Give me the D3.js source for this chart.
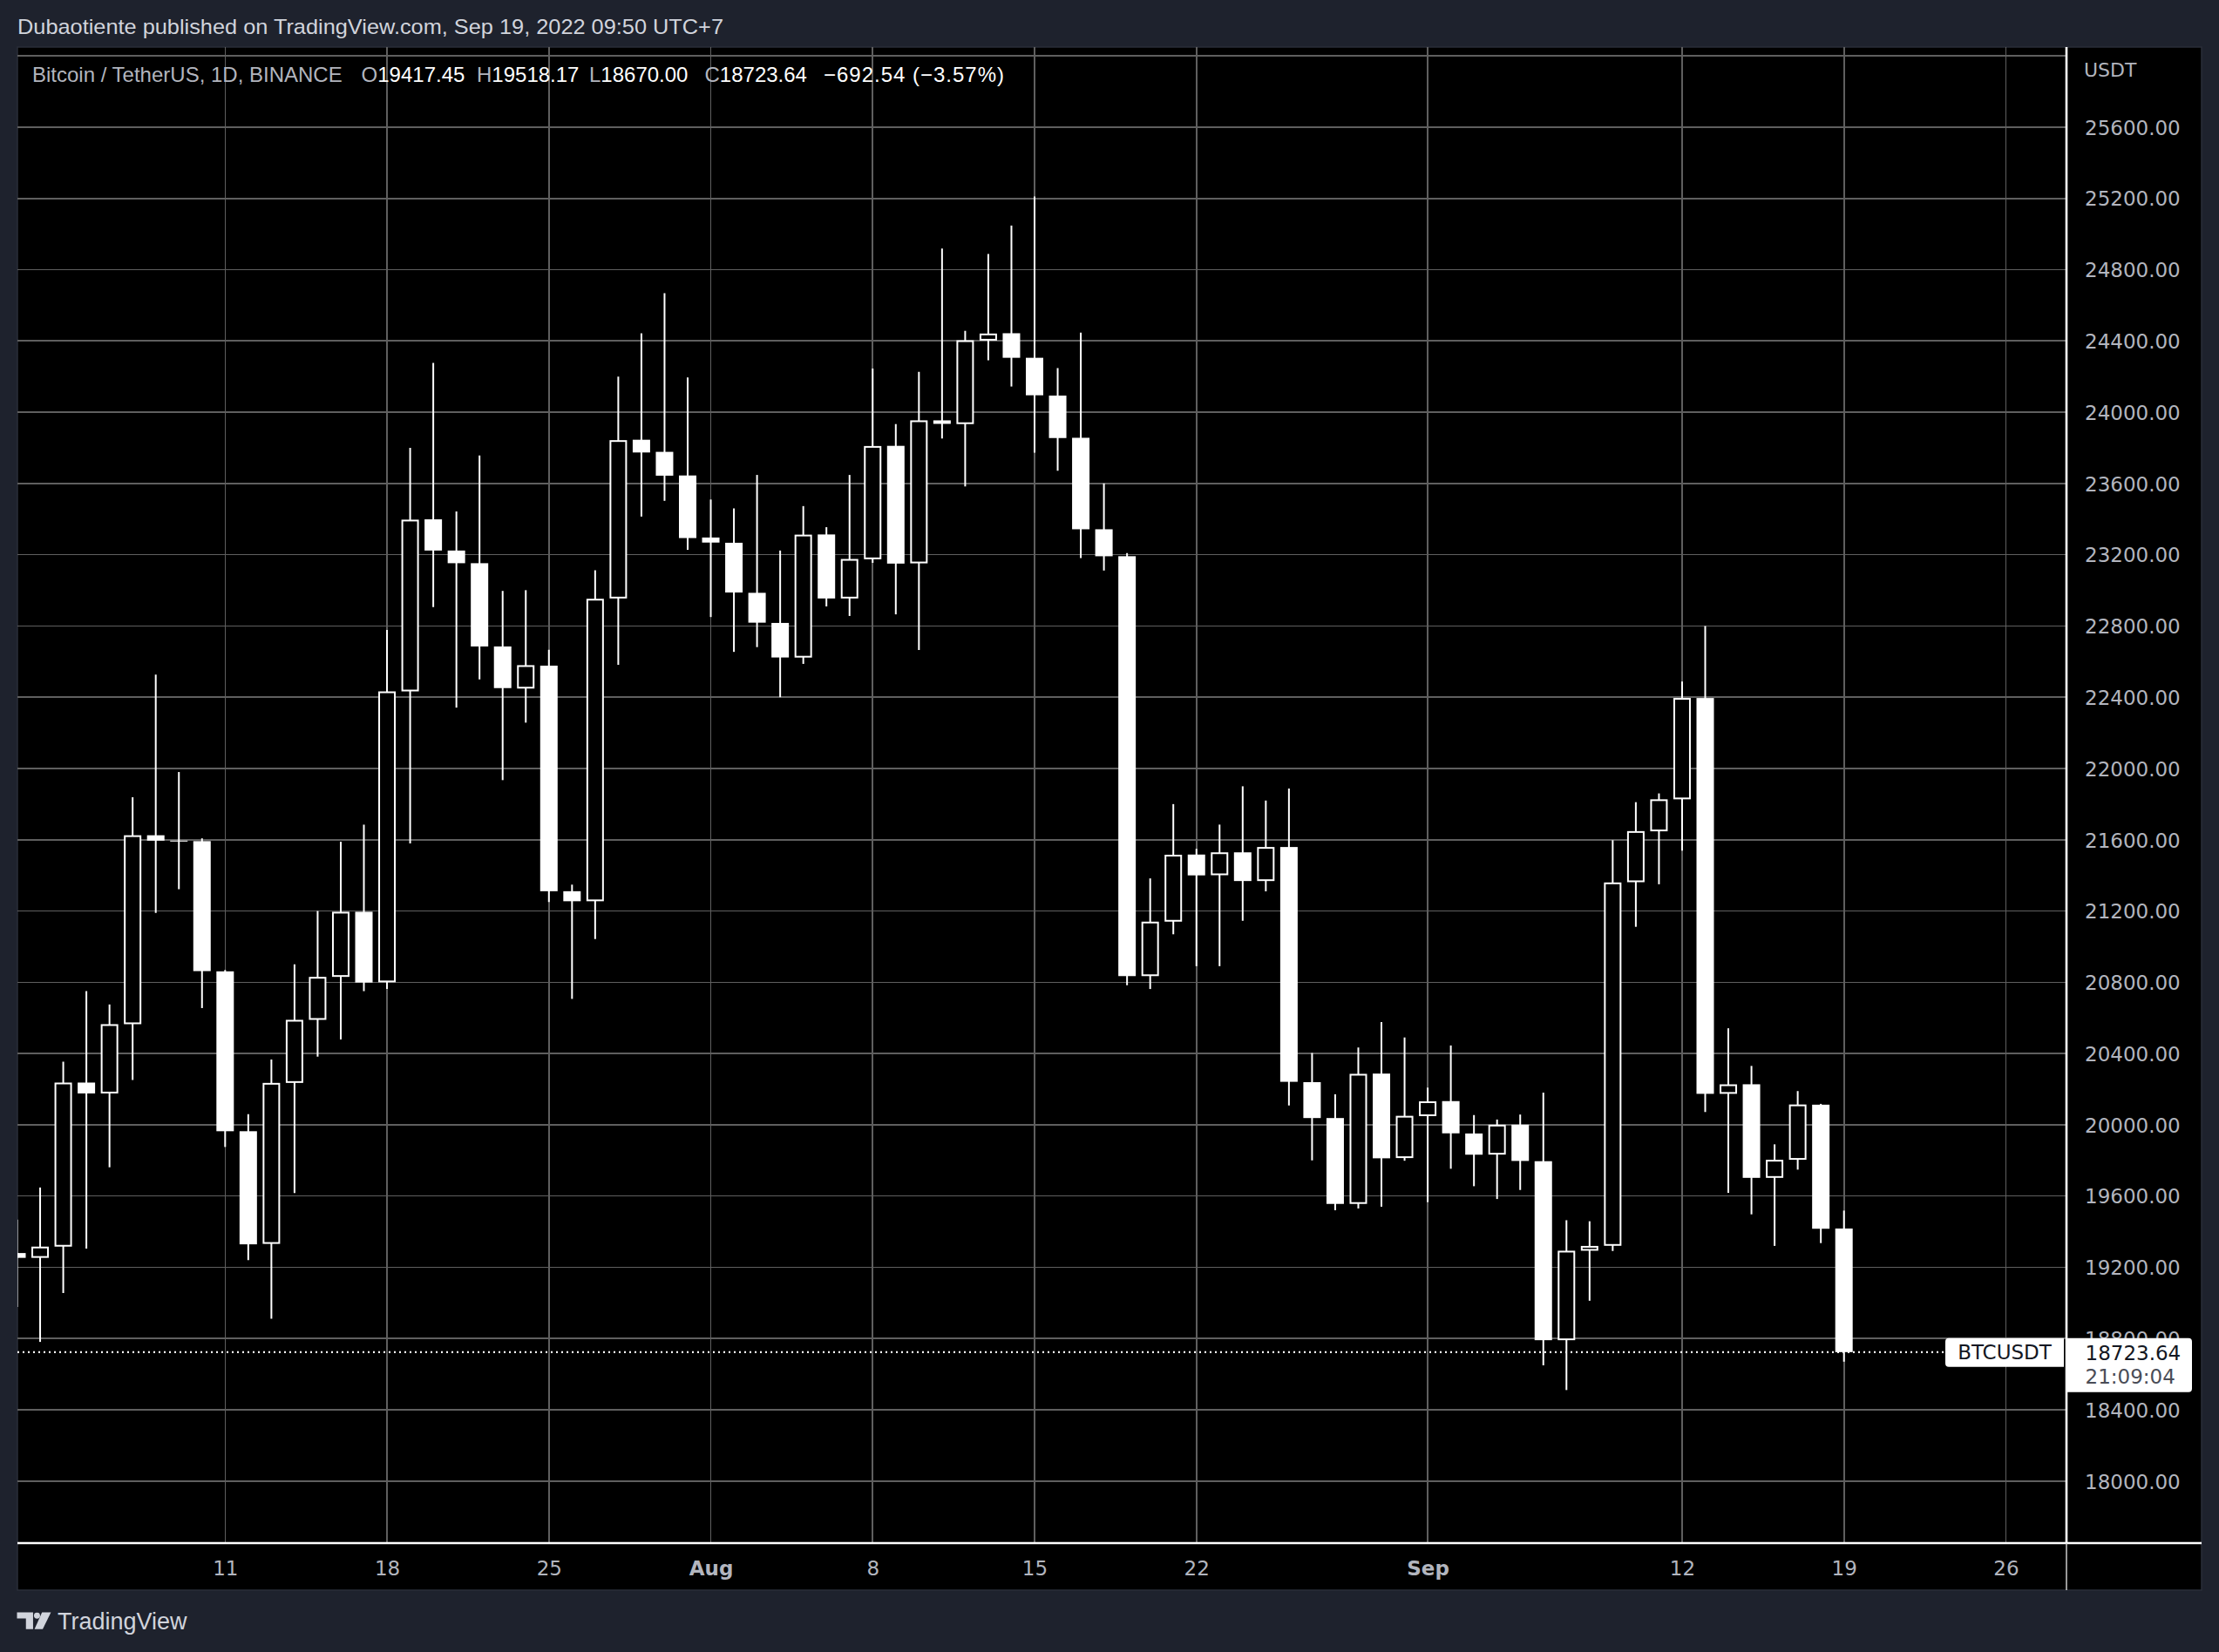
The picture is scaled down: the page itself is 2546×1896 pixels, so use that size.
<!DOCTYPE html>
<html><head><meta charset="utf-8">
<script src="https://cdn.jsdelivr.net/npm/d3@7"></script>
<style>
html,body{margin:0;padding:0;background:#1e222d;}
svg{display:block;}
</style></head><body>
<svg id="c" width="2546" height="1896"></svg>
<script>
// ---------- DATA (BTCUSDT daily, Binance) ----------
const dates = ["2022-07-02","2022-07-03","2022-07-04","2022-07-05","2022-07-06","2022-07-07","2022-07-08","2022-07-09","2022-07-10","2022-07-11",
"2022-07-12","2022-07-13","2022-07-14","2022-07-15","2022-07-16","2022-07-17","2022-07-18","2022-07-19","2022-07-20","2022-07-21",
"2022-07-22","2022-07-23","2022-07-24","2022-07-25","2022-07-26","2022-07-27","2022-07-28","2022-07-29","2022-07-30","2022-07-31",
"2022-08-01","2022-08-02","2022-08-03","2022-08-04","2022-08-05","2022-08-06","2022-08-07","2022-08-08","2022-08-09","2022-08-10",
"2022-08-11","2022-08-12","2022-08-13","2022-08-14","2022-08-15","2022-08-16","2022-08-17","2022-08-18","2022-08-19","2022-08-20",
"2022-08-21","2022-08-22","2022-08-23","2022-08-24","2022-08-25","2022-08-26","2022-08-27","2022-08-28","2022-08-29","2022-08-30",
"2022-08-31","2022-09-01","2022-09-02","2022-09-03","2022-09-04","2022-09-05","2022-09-06","2022-09-07","2022-09-08","2022-09-09",
"2022-09-10","2022-09-11","2022-09-12","2022-09-13","2022-09-14","2022-09-15","2022-09-16","2022-09-17","2022-09-18","2022-09-19"];
const openP = [19279.80,19252.82,19315.83,20236.71,20175.84,20564.51,21624.99,21594.75,21592.15,20861.11,
19963.61,19331.28,20234.87,20588.84,20830.04,21195.60,20799.58,22432.58,23398.48,23223.30,
23152.19,22684.83,22448.58,22577.13,21310.90,21254.67,22954.31,23845.25,23777.28,23644.64,
23296.36,23266.90,22985.93,22816.91,22622.41,23313.56,22954.21,23174.39,23810.98,23151.32,
23954.05,23933.09,24401.70,24443.06,24305.25,24093.04,23856.15,23342.66,23191.45,20834.39,
21140.07,21516.70,21400.75,21529.11,21368.05,21559.04,20239.14,20037.60,19555.61,20287.20,
19813.03,20048.44,20132.64,19950.98,19832.45,20000.30,19795.34,18790.61,19292.85,19320.54,
21361.62,21647.21,21826.87,22395.44,20173.62,20227.17,19701.88,19803.30,20112.60,19417.45];
const highP = [19467.39,19647.63,20354.01,20750.00,20675.22,21838.10,22527.37,21980.00,21607.65,20868.48,
20059.42,20366.61,20900.00,21200.00,21588.94,21684.54,22777.63,23800.00,24276.74,23442.77,
23756.49,22996.59,23000.77,22666.00,21347.82,23112.63,24199.72,24442.66,24668.00,24194.82,
23509.68,23459.89,23647.68,23223.32,23472.86,23354.36,23647.71,24245.00,23933.25,24226.00,
24918.54,24456.50,24888.00,25047.56,25211.32,24247.49,24446.71,23600.00,23208.67,21382.85,
21800.00,21548.71,21684.87,21900.00,21819.88,21886.77,20402.93,20171.18,20433.62,20576.25,
20490.00,20208.37,20445.06,20054.40,20029.23,20057.27,20180.00,19464.06,19458.25,21597.22,
21810.80,21860.00,22488.00,22799.00,20541.48,20330.24,19890.00,20189.00,20117.23,19518.17];
const lowP = [18977.01,18781.00,19055.31,19304.40,19761.25,20251.68,21189.26,21322.12,20655.00,19875.23,
19240.00,18910.94,19616.07,20382.29,20478.61,20750.01,20762.45,21579.54,22906.19,22341.46,
22500.00,21934.57,22257.15,21250.00,20706.50,21042.53,22582.13,23414.03,23502.25,23227.31,
22850.00,22654.37,22681.22,22400.00,22586.95,22909.52,22855.95,23154.25,22865.00,22664.69,
23852.13,23583.00,24291.22,24144.00,23773.22,23671.22,23180.40,23111.04,20783.57,20761.90,
21069.11,20890.18,20890.14,21145.00,21310.15,20107.90,19800.00,19520.00,19530.00,19540.00,
19797.94,19565.66,19753.03,19655.00,19583.10,19633.83,18649.51,18510.77,19012.00,19291.75,
21111.13,21350.00,21538.51,20071.46,19617.62,19497.00,19320.01,19748.08,19335.62,18670.00];
const closeP = [19252.81,19315.83,20236.71,20175.83,20564.51,21624.98,21594.75,21591.83,20862.47,19963.61,
19328.75,20234.87,20588.84,20830.04,21195.60,20798.16,22432.58,23396.62,23223.30,23152.19,
22684.83,22451.07,22579.68,21310.90,21254.67,22952.45,23842.93,23773.75,23643.51,23293.32,
23268.01,22987.79,22818.37,22622.98,23312.42,22954.21,23175.89,23810.00,23149.95,23954.05,
23934.39,24403.68,24441.38,24305.24,24094.82,23854.74,23342.66,23191.20,20834.39,21140.07,
21515.61,21399.83,21529.12,21368.08,21559.04,20241.05,20037.60,19555.61,20285.73,19811.66,
20050.02,20131.46,19951.86,19831.90,20000.30,19796.84,18790.61,19292.84,19319.77,21360.11,
21648.34,21826.87,22395.74,20173.57,20226.71,19701.88,19803.30,20113.62,19416.18,18723.64];

const priceTicks = [18000,18400,18800,19200,19600,20000,20400,20800,21200,21600,22000,22400,22800,23200,23600,24000,24400,24800,25200,25600,26000];
const priceLabelTicks = [18000,18400,18800,19200,19600,20000,20400,20800,21200,21600,22000,22400,22800,23200,23600,24000,24400,24800,25200,25600];
const timeTickDates = ["2022-07-11","2022-07-18","2022-07-25","2022-08-01","2022-08-08","2022-08-15","2022-08-22","2022-09-01","2022-09-12","2022-09-19","2022-09-26"];
const timeTickLabels = ["11","18","25","Aug","8","15","22","Sep","12","19","26"];
const boldTickLabels = ["Aug","Sep"];

const titleText = "Dubaotiente published on TradingView.com, Sep 19, 2022 09:50 UTC+7";
const symbolText = "Bitcoin / TetherUS, 1D, BINANCE";
const lastChange = "\u2212692.54 (\u22123.57%)";
const lastSymbol = "BTCUSDT";
const countdown = "21:09:04";

// ---------- LAYOUT ----------
const P = {left:20, top:54, right:2526, bottom:1825, axisX:2371, timeY:1771};
const svg = d3.select("#c");
const parse = d3.utcParse("%Y-%m-%d");
const candles = dates.map((d,i)=>({date:parse(d), o:openP[i], h:highP[i], l:lowP[i], c:closeP[i]}));

const x = d3.scaleUtc().domain([parse("2022-07-02"), parse("2022-09-19")]).range([19.5, 2115.7]);
const y = d3.scaleLinear().domain([18400, 25200]).range([1618, 227.7]);

// background
svg.append("rect").attr("width",2546).attr("height",1896).attr("fill","#1e222d");
svg.append("rect").attr("x",P.left).attr("y",P.top).attr("width",P.right-P.left).attr("height",P.bottom-P.top)
  .attr("fill","#000").attr("stroke","#2a2e39").attr("stroke-width",1.5);

// clip
svg.append("clipPath").attr("id","plot").append("rect")
  .attr("x",P.left).attr("y",P.top).attr("width",P.axisX-P.left).attr("height",P.timeY-P.top);

const grid = svg.append("g").attr("clip-path","url(#plot)").attr("shape-rendering","crispEdges");
grid.selectAll(".hg").data(priceTicks).join("line")
  .attr("x1",P.left).attr("x2",P.axisX).attr("y1",d=>y(d)).attr("y2",d=>y(d))
  .attr("stroke","#5f5f5f").attr("stroke-width",1.6);
grid.selectAll(".vg").data(timeTickDates).join("line")
  .attr("x1",d=>x(parse(d))).attr("x2",d=>x(parse(d))).attr("y1",P.top).attr("y2",P.timeY)
  .attr("stroke","#5f5f5f").attr("stroke-width",1.6);

// last price dotted line
const lastClose = closeP[closeP.length-1];
const ly = y(lastClose);
svg.append("line").attr("x1",P.left).attr("x2",2232).attr("y1",ly).attr("y2",ly)
  .attr("stroke","#fff").attr("stroke-width",2.2).attr("stroke-dasharray","2,4");

// candles
const cg = svg.append("g").attr("clip-path","url(#plot)");
const bw = 20;
cg.selectAll(".wick").data(candles).join("line")
  .attr("x1",d=>x(d.date)).attr("x2",d=>x(d.date))
  .attr("y1",d=>y(d.h)).attr("y2",d=>y(d.l))
  .attr("stroke","#fff").attr("stroke-width",2);
cg.selectAll(".body").data(candles).join("rect")
  .attr("x",d=> d.c>=d.o ? x(d.date)-bw/2+1 : x(d.date)-bw/2)
  .attr("width",d=> d.c>=d.o ? bw-2 : bw)
  .attr("y",d=> d.c>=d.o ? y(d.c)+1 : y(d.o))
  .attr("height",d=> d.c>=d.o ? Math.max(0.5, y(d.o)-y(d.c)-2) : Math.max(1, y(d.c)-y(d.o)))
  .attr("fill",d=> d.c>=d.o ? "#000" : "#fff")
  .attr("stroke",d=> d.c>=d.o ? "#fff" : "none")
  .attr("stroke-width",2);

// price axis
const yAxis = d3.axisRight(y).tickValues(priceLabelTicks).tickFormat(d3.format(".2f")).tickSize(0).tickPadding(0);
const ya = svg.append("g").attr("transform",`translate(2392,0)`).call(yAxis);
ya.select(".domain").remove();
ya.selectAll("text").attr("fill","#b2b5be").attr("font-family","DejaVu Sans").attr("font-size",23)
  .attr("text-anchor","start").attr("dy","0.36em");
svg.append("text").attr("x",2391).attr("y",88).text("USDT")
  .attr("fill","#b2b5be").attr("font-family","DejaVu Sans").attr("font-size",22);

// time axis
const tmap = new Map(timeTickDates.map((d,i)=>[+parse(d), timeTickLabels[i]]));
const xAxis = d3.axisBottom(x).tickValues(timeTickDates.map(parse)).tickFormat(d=>tmap.get(+d)).tickSize(0).tickPadding(0);
const xa = svg.append("g").attr("transform",`translate(0,${P.timeY})`).call(xAxis);
xa.select(".domain").remove();
xa.selectAll("text").attr("fill","#b2b5be").attr("font-family","DejaVu Sans").attr("font-size",23)
  .attr("y",37).attr("dy",0)
  .attr("font-weight",d=> boldTickLabels.includes(tmap.get(+d)) ? "bold" : "normal");

// separators
svg.append("line").attr("x1",P.left).attr("x2",P.right).attr("y1",P.timeY).attr("y2",P.timeY)
  .attr("stroke","#fff").attr("stroke-width",2.6);
svg.append("line").attr("x1",P.axisX).attr("x2",P.axisX).attr("y1",P.top).attr("y2",P.timeY)
  .attr("stroke","#fff").attr("stroke-width",2.6);
svg.append("line").attr("x1",P.axisX).attr("x2",P.axisX).attr("y1",P.timeY).attr("y2",P.bottom)
  .attr("stroke","#d9d9d9").attr("stroke-width",1.4);

// last price labels
svg.append("path").attr("fill","#fff")
  .attr("d",`M${2232+4},${ly-16} H2368 V${ly+17} H${2232+4} Q2232,${ly+17} 2232,${ly+13} V${ly-12} Q2232,${ly-16} ${2236},${ly-16} Z`);
svg.append("text").attr("x",2300).attr("y",ly+8.5).attr("text-anchor","middle").text(lastSymbol)
  .attr("fill","#131722").attr("font-family","DejaVu Sans").attr("font-size",23);
svg.append("path").attr("fill","#fff")
  .attr("d",`M2372,${ly-16} H${2515-4} Q2515,${ly-16} 2515,${ly-12} V${ly+42} Q2515,${ly+46} ${2511},${ly+46} H2372 Z`);
svg.append("text").attr("x",2392.5).attr("y",ly+9).text(d3.format(".2f")(lastClose))
  .attr("fill","#131722").attr("font-family","DejaVu Sans").attr("font-size",23);
svg.append("text").attr("x",2392.5).attr("y",ly+36).text(countdown)
  .attr("fill","#4a4d57").attr("font-family","DejaVu Sans").attr("font-size",23);

// title
svg.append("text").attr("x",20).attr("y",39).text(titleText)
  .attr("fill","#d1d4dc").attr("font-family","Liberation Sans, Arial").attr("font-size",24)
  .attr("textLength",810).attr("lengthAdjust","spacingAndGlyphs");

// header legend
const last = candles[candles.length-1];
const hdr = svg.append("g").attr("font-family","Liberation Sans, Arial").attr("font-size",24);
hdr.append("text").attr("x",37).attr("y",94).attr("fill","#b2b5be").text(symbolText);
const parts = [["O", last.o, 414.6],["H", last.h, 547],["L", last.l, 676],["C", last.c, 808.5]];
parts.forEach(([k,v,px])=>{
  const t = hdr.append("text").attr("x",px).attr("y",94);
  t.append("tspan").attr("fill","#b2b5be").text(k);
  t.append("tspan").attr("fill","#ffffff").text(d3.format(".2f")(v));
});
hdr.append("text").attr("x",945).attr("y",94).attr("fill","#ffffff").text(lastChange)
  .attr("textLength",207).attr("lengthAdjust","spacing");

// footer logo
const lg = svg.append("g").attr("transform","translate(19.5,1850.5) scale(0.41)").attr("fill","#d1d4dc");
lg.append("path").attr("d","M0,0 H45 V47 H25 V17 H0 Z");
lg.append("circle").attr("cx",56).attr("cy",9).attr("r",8.5);
lg.append("path").attr("d","M70,0 H95 L72,47 H49 Z");
svg.append("text").attr("x",66).attr("y",1870).text("TradingView")
  .attr("fill","#d1d4dc").attr("font-family","Liberation Sans, Arial").attr("font-size",27);
</script>
</body></html>
